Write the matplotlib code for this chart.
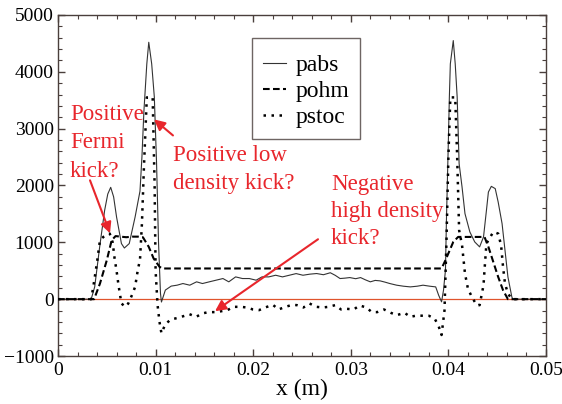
import matplotlib
matplotlib.use("Agg")
import matplotlib.pyplot as plt

# ---------------- data ----------------
pabs_x = [0.0, 0.0034, 0.00376, 0.00427, 0.00478, 0.0051, 0.0054, 0.0057, 0.0060, 0.0065,
          0.0068, 0.0073, 0.0079, 0.0084, 0.0086, 0.0088, 0.0091, 0.0093, 0.0096, 0.00987,
          0.0101, 0.0103, 0.0105, 0.0106, 0.0110, 0.0116, 0.0122, 0.0128, 0.0135, 0.0142,
          0.0148, 0.0155, 0.0162, 0.0169, 0.0175, 0.0182, 0.0189, 0.0196, 0.0203, 0.0209,
          0.0216, 0.0223, 0.0230, 0.0237, 0.0244, 0.0251, 0.0258, 0.0265, 0.0272, 0.0279,
          0.0284, 0.0289, 0.0294, 0.0299, 0.0305, 0.0310, 0.0315, 0.0320, 0.0325, 0.0330,
          0.0335, 0.0340, 0.0347, 0.0354, 0.0361, 0.0368, 0.0374, 0.0381, 0.0387, 0.0390,
          0.0393, 0.0395, 0.0397, 0.0398, 0.0400, 0.0401, 0.0402, 0.0405, 0.0407, 0.0409,
          0.0411, 0.0414, 0.0417, 0.0422, 0.0427, 0.0432, 0.0436, 0.0439, 0.0441, 0.0444,
          0.0448, 0.0451, 0.0455, 0.0458, 0.0461, 0.0465, 0.0466, 0.05]
pabs_y = [0, 0, 216, 920, 1564, 1850, 1968, 1800, 1446, 978,
          900, 978, 1446, 1900, 2500, 3300, 4140, 4520, 4140, 3555,
          2384, 1000, 100, -50, 160, 230, 246, 275, 246, 305,
          275, 305, 334, 363, 305, 392, 363, 363, 334, 392,
          392, 421, 392, 421, 450, 421, 440, 451, 430, 465,
          420, 363, 370, 380, 360, 380, 340, 305, 330, 322,
          300, 275, 246, 228, 216, 228, 246, 228, 216, 70,
          -47, 158, 510, 1388, 2800, 3555, 4140, 4550, 4140, 3555,
          2384, 1973, 1505, 1183, 1007, 920, 1095, 1564, 1885, 1985,
          1945, 1710, 1330, 861, 392, 40, 0, 0]

pohm_x = [0.0, 0.0037, 0.0043, 0.0050, 0.0055, 0.0059, 0.0064, 0.0070, 0.0076, 0.0082,
          0.0087, 0.0093, 0.0098, 0.0104, 0.0107, 0.0393, 0.0397, 0.0405, 0.0410, 0.0437,
          0.0441, 0.0446, 0.0451, 0.0456, 0.0461, 0.05]
pohm_y = [0, 0, 275, 685, 1037, 1110, 1100, 1090, 1100, 1100,
          1090, 920, 715, 570, 540, 540, 685, 1007, 1095, 1095,
          920, 656, 392, 158, 0, 0]

pstoc_x = [0.0, 0.0034, 0.0036, 0.0040, 0.0043, 0.00465, 0.0053, 0.0056, 0.0058, 0.0060,
           0.0062, 0.0065, 0.0069, 0.0072, 0.0076, 0.0079, 0.0082, 0.0084, 0.0086, 0.0088,
           0.0091, 0.0094, 0.0097, 0.0099, 0.0100, 0.0102, 0.0104, 0.0106, 0.0110, 0.01156,
           0.01217, 0.01285, 0.01347, 0.01415, 0.0148, 0.0154, 0.0162, 0.0168, 0.01736, 0.01798,
           0.0187, 0.01935, 0.01997, 0.0206, 0.02123, 0.02202, 0.0226, 0.0233, 0.0240, 0.02447,
           0.02515, 0.02577, 0.02646, 0.02715, 0.02772, 0.0284, 0.0290, 0.0296, 0.0303, 0.0309,
           0.0316, 0.03215, 0.0327, 0.0334, 0.0341, 0.03472, 0.0355, 0.0361, 0.0368, 0.0374,
           0.0380, 0.03859, 0.0390, 0.0393, 0.0396, 0.0398, 0.0400, 0.0402, 0.0407, 0.0409,
           0.0411, 0.0414, 0.0417, 0.0420, 0.0424, 0.0429, 0.0432, 0.0436, 0.0437, 0.0439,
           0.0443, 0.0446, 0.0451, 0.0454, 0.0456, 0.0458, 0.0461, 0.0465, 0.05]
pstoc_y = [0, 0, 200, 650, 1037, 1095, 1154, 1000, 715, 500,
           246, -76, -135, -76, 80, 216, 539, 685, 1330, 2300,
           3550, 3550, 3550, 2000, 500, -100, -400, -600, -440, -357,
           -334, -299, -264, -311, -251, -228, -228, -210, -193, -135,
           -135, -146, -181, -193, -146, -100, -181, -135, -100, -105,
           -146, -76, -135, -146, -135, -105, -181, -170, -181, -111,
           -146, -228, -228, -181, -240, -281, -240, -310, -287, -292,
           -292, -340, -475, -630, -200, 1000, 2500, 3550, 3550, 2500,
           1213, 949, 451, 187, 40, -105, -105, 246, 510, 978,
           1095, 1183, 1154, 949, 568, 275, 100, 0, 0]

series_labels = ["pabs", "pohm", "pstoc"]
xticks = [0, 0.01, 0.02, 0.03, 0.04, 0.05]
xtick_labels = ["0", "0.01", "0.02", "0.03", "0.04", "0.05"]
yticks = [-1000, 0, 1000, 2000, 3000, 4000, 5000]

ann_fermi = "Positive\nFermi\nkick?"
ann_low = "Positive low\ndensity kick?"
ann_high = "Negative\nhigh density\nkick?"

# ---------------- style ----------------
plt.rcParams['font.family'] = 'serif'
plt.rcParams['font.serif'] = ['Liberation Serif', 'DejaVu Serif']

RED = '#e8262c'
FRAME = '#4a3f3c'

fig = plt.figure(figsize=(5.62, 4.04), dpi=100)
ax = fig.add_axes([0.1032, 0.1188, 0.8683, 0.8441])

ax.axhline(0, color='#e0542c', lw=0.9, zorder=1)

ax.plot(pabs_x, pabs_y, color='#333333', lw=0.8, label=series_labels[0], zorder=3)
l2, = ax.plot(pohm_x, pohm_y, color='black', lw=1.5, label=series_labels[1], zorder=3,
              linestyle=(0, (3.2, 1.6)))
l3, = ax.plot(pstoc_x, pstoc_y, color='black', lw=1.8, label=series_labels[2], zorder=3,
              linestyle=(0, (1, 2.2)))
l2.set_dash_capstyle('butt')
l3.set_dash_capstyle('butt')

ax.set_xlim(0, 0.05)
ax.set_ylim(-1000, 5000)
ax.set_xticks(xticks)
ax.set_xticklabels(xtick_labels)
ax.set_yticks(yticks)
ax.set_xticks([i * 0.002 for i in range(26)], minor=True)
ax.set_yticks([-1000 + i * 200 for i in range(31)], minor=True)

for s in ax.spines.values():
    s.set_color(FRAME)
    s.set_linewidth(1.0)
ax.tick_params(which='both', direction='in', top=True, right=True, color=FRAME,
               labelsize=14, labelcolor='black')
ax.tick_params(which='major', length=5, width=1.0)
ax.tick_params(which='minor', length=3, width=0.8)
ax.tick_params(axis='x', pad=4)
ax.tick_params(axis='y', pad=3)

ax.set_xlabel("x (m)", fontsize=17, labelpad=0)

leg = ax.legend(loc='upper left', bbox_to_anchor=(0.3975, 0.9326), borderaxespad=0,
                fontsize=17, frameon=True, fancybox=False, handlelength=1.0,
                handletextpad=0.4, borderpad=0.45, labelspacing=0.2,
                title=' ', title_fontsize=1)
leg.get_frame().set_edgecolor(FRAME)
leg.get_frame().set_linewidth(1.0)

ax.text(0.00123, 3440, ann_fermi, color=RED, fontsize=16.5, va='top', ha='left',
        linespacing=1.47, zorder=5)
ax.text(0.01178, 2720, ann_low, color=RED, fontsize=16.5, va='top', ha='left',
        linespacing=1.45, zorder=5)
ax.text(0.02797, 2200, ann_high, color=RED, fontsize=16.5, va='top', ha='left',
        linespacing=1.37, zorder=5)

ap = dict(arrowstyle='-|>', color=RED, lw=1.5, mutation_scale=16, shrinkA=0, shrinkB=0)
ax.annotate("", xy=(0.00533, 1160), xytext=(0.00328, 2091), arrowprops=ap, zorder=5)
ax.annotate("", xy=(0.00984, 3163), xytext=(0.01178, 2881), arrowprops=ap, zorder=5)
ax.annotate("", xy=(0.01609, -211), xytext=(0.02664, 1054), arrowprops=ap, zorder=5)

fig.savefig("out.png", dpi=100)
